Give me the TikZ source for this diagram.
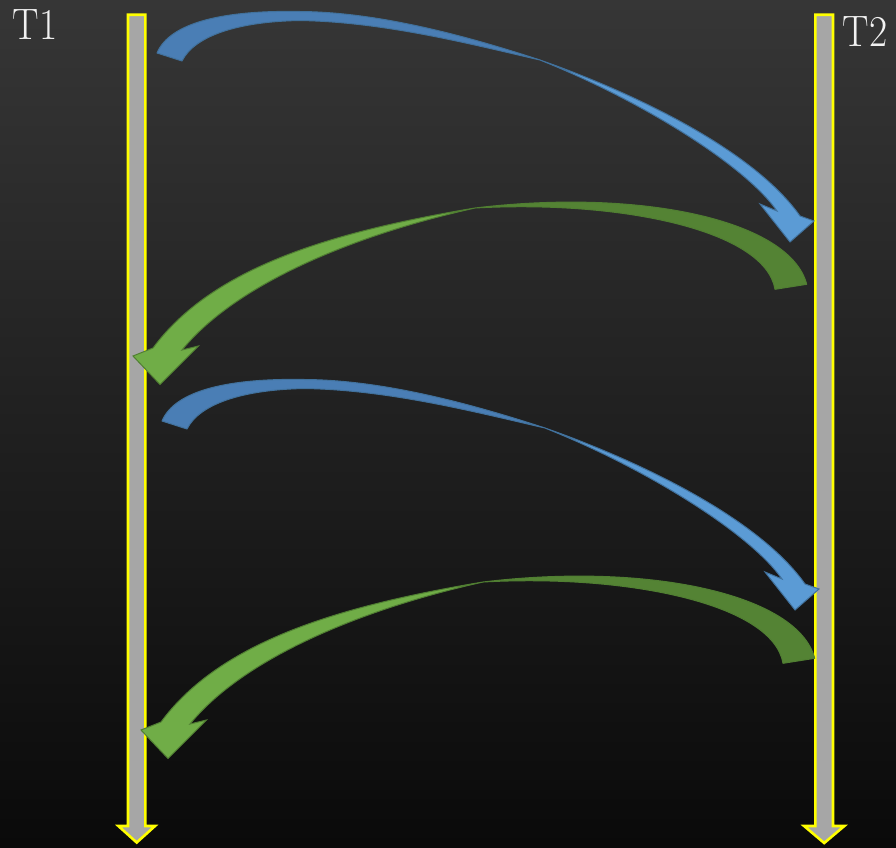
\documentclass[tikz,border=0pt]{standalone}
\usepackage{graphicx}
\definecolor{bgtop}{RGB}{54,54,54}
\definecolor{bgbot}{RGB}{10,10,10}
\definecolor{barfill}{RGB}{166,166,166}
\definecolor{baredge}{RGB}{255,255,0}
\definecolor{bluelight}{RGB}{91,155,213}
\definecolor{bluedark}{RGB}{74,126,181}
\definecolor{blueline}{RGB}{65,113,156}
\definecolor{greenlight}{RGB}{112,173,71}
\definecolor{greendark}{RGB}{84,131,52}
\definecolor{greenline}{RGB}{80,126,50}
\tikzset{
  barshape/.style={fill=barfill, draw=baredge, line width=2.6pt, line join=miter},
  bdark/.style={fill=bluedark, draw=blueline, line width=1pt, line join=round},
  blight/.style={fill=bluelight, draw=blueline, line width=1pt, line join=miter},
  gdark/.style={fill=greendark, draw=greenline, line width=1pt, line join=round},
  glight/.style={fill=greenlight, draw=greenline, line width=1pt, line join=miter},
  lbl/.style={text=white!95!black, font=\fontsize{44}{50}\selectfont, inner sep=0pt},
  bluecurve/.pic={
    % darker tail part (from T1 up to the twist)
    \path[bdark] (157,53) .. controls (170,22) and (225,10) .. (300,11.5)
      .. controls (380,12) and (470,37) .. (540,60)
      .. controls (470,44) and (385,22) .. (300,20.5)
      .. controls (240,21.5) and (195,35) .. (182,61) -- cycle;
    % lighter head part (from the twist down to T2)
    \path[blight] (540,60) .. controls (640,95) and (755,152) .. (800,216)
      -- (814,221) -- (790,242) -- (760,204) -- (777,211)
      .. controls (745,165) and (640,100) .. (540,60) -- cycle;
  },
  greencurve/.pic={
    % darker tail part (from T2 up to the twist)
    \path[gdark] (806.7,284.3) .. controls (790,220) and (640,188) .. (475,208)
      .. controls (620,200) and (765,230) .. (775,289.3) -- cycle;
    % lighter head part (from the twist down to T1)
    \path[glight] (475,208) .. controls (330,232) and (212,268) .. (153,348)
      -- (133,356) -- (160,384.5) -- (198.5,346) -- (182,350)
      .. controls (235,285) and (350,236) .. (475,208) -- cycle;
  }
}
\begin{document}
\begin{tikzpicture}[x=1pt,y=-1pt]
\useasboundingbox (0,0) rectangle (896,847);
\shade[top color=bgtop, bottom color=bgbot] (0,0) rectangle (896,847);
% time lines
\draw[barshape] (128,14.7) -- (145.3,14.7) -- (145.3,826) -- (155,826) -- (136.7,842.5) -- (118.4,826) -- (128,826) -- cycle;
\draw[barshape] (815.3,14.7) -- (833,14.7) -- (833,826) -- (844.3,826) -- (824.2,843) -- (804.1,826) -- (815.3,826) -- cycle;
% labels
\node[lbl, anchor=base west] (t1) at (12.5,39.3) {\scalebox{0.9}[1]{T1}};
\node[lbl, anchor=base west] (t2) at (842.5,46.7) {\scalebox{0.9}[1]{T2}};
% curved arrows
\pic at (0,0) {bluecurve};
\pic at (0,0) {greencurve};
\pic at (5,368) {bluecurve};
\pic at (8,374) {greencurve};
\end{tikzpicture}
\end{document}
